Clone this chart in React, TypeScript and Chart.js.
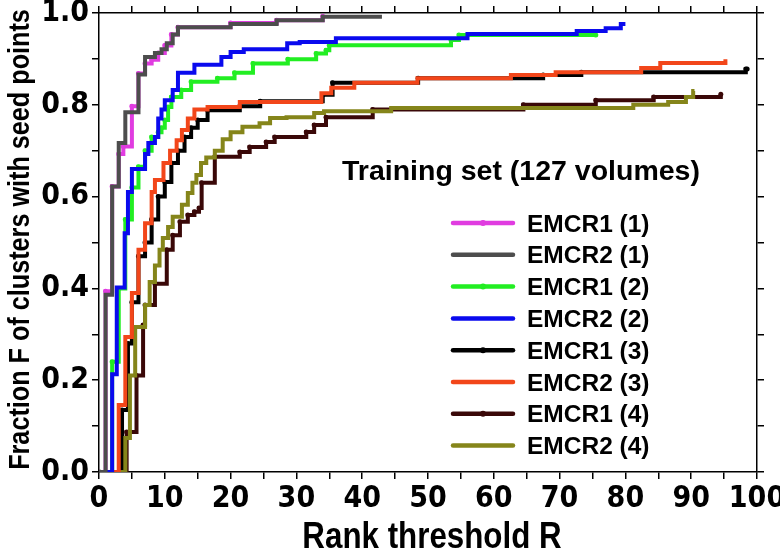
import React, { useEffect, useRef } from "react";
import { Chart, registerables } from "chart.js";

Chart.register(...registerables);

// ---- Data (rank threshold R, fraction F) ----
const seriesLabels = [
  "EMCR1 (1)", "EMCR2 (1)", "EMCR1 (2)", "EMCR2 (2)",
  "EMCR1 (3)", "EMCR2 (3)", "EMCR1 (4)", "EMCR2 (4)",
];
const seriesColors = [
  "#E03CE0", "#4D4D4D", "#22EE22", "#0A0AEE",
  "#000000", "#F2461A", "#3A0808", "#85851A",
];

const emcr1_1_R = [0, 1, 2, 3, 3.7, 5, 6, 7, 8, 9, 10, 11, 12, 20, 27, 34];
const emcr1_1_F = [0, 0.394, 0.622, 0.693, 0.709, 0.797, 0.868, 0.890, 0.898, 0.913, 0.929, 0.953, 0.969, 0.978, 0.984, 0.993];

const emcr2_1_R = [0, 1, 2, 3, 4, 6, 7, 8.5, 9.5, 10.3, 11.2, 12, 20, 27, 34, 43];
const emcr2_1_F = [0, 0.386, 0.622, 0.717, 0.784, 0.866, 0.904, 0.913, 0.921, 0.934, 0.953, 0.969, 0.976, 0.984, 0.992, 0.992];

const emcr1_2_R = [0, 2, 3, 4, 5, 6, 7, 8, 9, 9.5, 10, 10.5, 11, 12.5, 14, 18, 20.6, 23.4, 28.7, 33, 34.5, 35, 53.5, 54.7, 75.5];
const emcr1_2_F = [0, 0.24, 0.40, 0.55, 0.62, 0.665, 0.70, 0.73, 0.74, 0.75, 0.767, 0.795, 0.817, 0.832, 0.850, 0.858, 0.870, 0.89, 0.899, 0.912, 0.919, 0.93, 0.941, 0.952, 0.952];

const emcr2_2_R = [0, 2, 2.7, 3.9, 4.4, 5, 7, 7.5, 8.5, 9, 9.5, 10, 11.2, 12, 14.5, 18.6, 20, 22, 28.6, 30.5, 36, 56, 72.6, 77, 79.3, 80];
const emcr2_2_F = [0, 0.213, 0.402, 0.52, 0.61, 0.66, 0.693, 0.717, 0.73, 0.77, 0.79, 0.81, 0.832, 0.87, 0.887, 0.904, 0.915, 0.921, 0.934, 0.937, 0.945, 0.954, 0.961, 0.967, 0.976, 0.976];

const emcr1_3_R = [0, 3.5, 4.4, 5, 6, 7, 8, 9, 10, 11, 12, 13, 14, 15, 16.5, 21.4, 24.5, 34, 35.5, 48.5, 67.5, 73.3, 98.3, 98.5];
const emcr1_3_F = [0, 0.135, 0.28, 0.37, 0.47, 0.50, 0.55, 0.60, 0.632, 0.673, 0.70, 0.73, 0.75, 0.767, 0.788, 0.797, 0.808, 0.822, 0.848, 0.858, 0.865, 0.871, 0.878, 0.878];

const emcr2_3_R = [0, 3, 4, 5, 6, 7, 8, 8.5, 9.8, 10.8, 11.8, 12.6, 13.5, 14.5, 16.5, 21.4, 33.8, 35.3, 38.8, 48.4, 62.6, 69.4, 82.4, 85.3, 95.2, 95.5];
const emcr2_3_F = [0, 0.146, 0.294, 0.39, 0.484, 0.542, 0.61, 0.636, 0.673, 0.70, 0.723, 0.745, 0.77, 0.79, 0.795, 0.806, 0.825, 0.837, 0.848, 0.858, 0.865, 0.871, 0.88, 0.891, 0.895, 0.895];

const emcr1_4_R = [0, 4.2, 5.7, 6.7, 7, 8.5, 10.3, 11.2, 12.3, 13.5, 14.5, 15.2, 15.6, 17.6, 21.4, 22.9, 25.4, 26.7, 31.5, 32.7, 34.5, 41.6, 64.5, 75.5, 84.3, 94.5];
const emcr1_4_F = [0, 0.087, 0.21, 0.32, 0.364, 0.41, 0.484, 0.516, 0.545, 0.56, 0.567, 0.575, 0.63, 0.687, 0.697, 0.708, 0.719, 0.73, 0.741, 0.756, 0.773, 0.79, 0.80, 0.81, 0.817, 0.823];

const emcr2_4_R = [0, 4, 4.7, 5.5, 7, 7.7, 8.5, 9.2, 9.7, 10.5, 11.2, 12.6, 13.5, 14.2, 14.8, 15.5, 16.3, 17.6, 18.8, 20, 21.8, 24.4, 26, 28.5, 32.7, 34.2, 44.4, 81.2, 86.5, 89.2, 90.3, 90.5];
const emcr2_4_F = [0, 0.074, 0.21, 0.316, 0.364, 0.414, 0.45, 0.484, 0.51, 0.534, 0.556, 0.582, 0.608, 0.63, 0.647, 0.673, 0.685, 0.70, 0.725, 0.74, 0.752, 0.76, 0.771, 0.773, 0.782, 0.786, 0.793, 0.80, 0.806, 0.817, 0.83, 0.83];

const seriesR = [emcr1_1_R, emcr2_1_R, emcr1_2_R, emcr2_2_R, emcr1_3_R, emcr2_3_R, emcr1_4_R, emcr2_4_R];
const seriesF = [emcr1_1_F, emcr2_1_F, emcr1_2_F, emcr2_2_F, emcr1_3_F, emcr2_3_F, emcr1_4_F, emcr2_4_F];

const legendTitle = "Training set (127 volumes)";
const xTitle = "Rank threshold R";
const yTitle = "Fraction F of clusters with seed points";

const CONDENSED = '"DejaVu Sans Condensed", "Liberation Sans", Arial, sans-serif';
const SANS = '"Liberation Sans", Arial, sans-serif';

function drawSqueezed(ctx: any, text: string, x: number, y: number, font: string, sx: number, rotation: number) {
  ctx.save();
  ctx.translate(x, y);
  if (rotation) ctx.rotate(rotation);
  ctx.scale(sx, 1);
  ctx.font = font;
  ctx.fillStyle = "#000";
  ctx.textAlign = "center";
  ctx.textBaseline = "alphabetic";
  ctx.fillText(text, 0, 0);
  ctx.restore();
}

const titlesPlugin = {
  id: "axisTitles",
  afterDraw(chart: any) {
    const ctx = chart.ctx;
    const xs = chart.scales.x;
    const ys = chart.scales.y;
    const xc = (xs.left + xs.right) / 2 + 4;
    drawSqueezed(ctx, xTitle, xc, 548, `bold 36px ${SANS}`, 0.87, 0);
    const yc = (ys.top + ys.bottom) / 2 - 3;
    drawSqueezed(ctx, yTitle, 29, yc, `bold 30px ${SANS}`, 0.84, -Math.PI / 2);
  },
};

const legendPlugin = {
  id: "customLegend",
  afterDraw(chart: any) {
    const ctx = chart.ctx;
    ctx.save();
    ctx.fillStyle = "#000";
    ctx.textAlign = "left";
    ctx.textBaseline = "alphabetic";
    ctx.font = `bold 28.5px ${SANS}`;
    ctx.fillText(legendTitle, 342, 180);
    chart.data.datasets.forEach((ds: any, i: number) => {
      const y = 223 + i * 31.8;
      ctx.strokeStyle = ds.borderColor;
      ctx.lineWidth = 4.5;
      ctx.lineCap = "round";
      ctx.beginPath();
      ctx.moveTo(453, y);
      ctx.lineTo(513, y);
      ctx.stroke();
      if (ds.pointRadius > 0) {
        ctx.fillStyle = ds.borderColor;
        ctx.beginPath();
        ctx.arc(483, y, 3, 0, Math.PI * 2);
        ctx.fill();
      }
      ctx.fillStyle = "#000";
      ctx.font = `bold 24.5px ${SANS}`;
      ctx.fillText(ds.label, 527, y + 8.5);
    });
    ctx.restore();
  },
};

function fixSize(prop: "width" | "height", v: number) {
  return (s: any) => {
    s[prop] = v;
    s.paddingTop = 0;
    s.paddingBottom = 0;
    s.paddingLeft = 0;
    s.paddingRight = 0;
  };
}

export default function App() {
  const ref = useRef<HTMLCanvasElement | null>(null);
  useEffect(() => {
    if (!ref.current) return;
    const datasets = seriesLabels.map((label, i) => {
      const isEmcr1 = i % 2 === 0;
      return {
        label,
        data: seriesR[i].map((r, j) => ({ x: r, y: seriesF[i][j] })),
        borderColor: seriesColors[i],
        backgroundColor: seriesColors[i],
        borderWidth: 4,
        stepped: true,
        pointRadius: isEmcr1 ? 2.5 : 0,
        pointHoverRadius: 0,
        pointBorderWidth: 0,
        fill: false,
        order: isEmcr1 ? 1 : 0,
      };
    });
    const gridCommon = {
      drawOnChartArea: false,
      drawTicks: true,
      tickLength: 7,
      color: "#000",
      lineWidth: 1.5,
    };
    const borderCommon = { display: true, color: "#000", width: 1.5 };
    const chart = new Chart(ref.current, {
      type: "line",
      data: { datasets },
      plugins: [legendPlugin, titlesPlugin],
      options: {
        animation: false,
        responsive: false,
        maintainAspectRatio: false,
        layout: { padding: 0 },
        plugins: { legend: { display: false }, tooltip: { enabled: false } },
        scales: {
          x: {
            type: "linear",
            position: "bottom",
            min: 0,
            max: 100,
            afterFit: fixSize("height", 84),
            ticks: {
              stepSize: 5,
              autoSkip: false,
              maxRotation: 0,
              padding: 2,
              color: "#000",
              font: { family: CONDENSED, size: 30, weight: "bold" },
              callback: (v: any) => (Math.round(v) % 10 === 0 ? String(Math.round(v)) : ""),
            },
            grid: gridCommon,
            border: borderCommon,
          },
          x2: {
            type: "linear",
            position: "top",
            min: 0,
            max: 100,
            afterFit: fixSize("height", 13),
            ticks: { stepSize: 5, autoSkip: false, maxRotation: 0, callback: () => "", font: { size: 1 }, padding: 0 },
            grid: gridCommon,
            border: borderCommon,
          },
          y: {
            type: "linear",
            position: "left",
            min: 0,
            max: 1,
            afterFit: fixSize("width", 99),
            ticks: {
              stepSize: 0.1,
              autoSkip: false,
              padding: 3,
              color: "#000",
              font: { family: CONDENSED, size: 30, weight: "bold" },
              callback: (v: any) => (Math.round(v * 10) % 2 === 0 ? Number(v).toFixed(1) : ""),
            },
            grid: gridCommon,
            border: borderCommon,
          },
          y2: {
            type: "linear",
            position: "right",
            min: 0,
            max: 1,
            afterFit: fixSize("width", 23),
            ticks: { stepSize: 0.1, autoSkip: false, callback: () => "", font: { size: 1 }, padding: 0 },
            grid: gridCommon,
            border: borderCommon,
          },
        },
      } as any,
    });
    return () => chart.destroy();
  }, []);
  return (
    <div style={{ position: "absolute", left: 0, top: 0, width: 780, height: 556, background: "#fff" }}>
      <canvas ref={ref} width={780} height={556} style={{ display: "block", width: 780, height: 556 }} />
    </div>
  );
}
